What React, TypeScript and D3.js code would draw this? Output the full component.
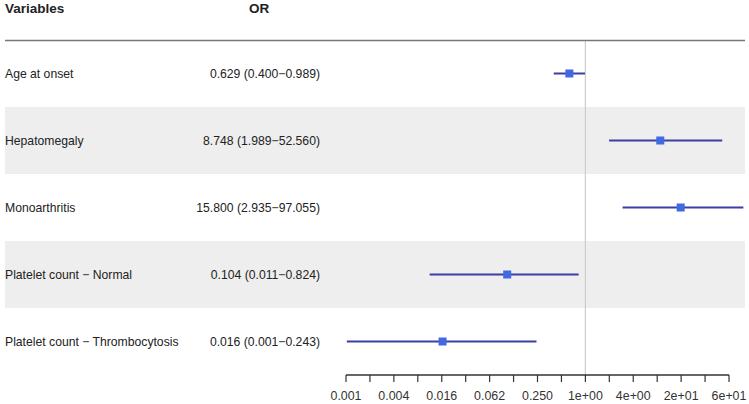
import React from "react";
import * as d3 from "d3";

const variables = [
  "Age at onset",
  "Hepatomegaly",
  "Monoarthritis",
  "Platelet count \u2212 Normal",
  "Platelet count \u2212 Thrombocytosis",
];
const orValues = [0.629, 8.748, 15.8, 0.104, 0.016];
const lowerCI = [0.4, 1.989, 2.935, 0.011, 0.001];
const upperCI = [0.989, 52.56, 97.055, 0.824, 0.243];
const orLabels = [
  "0.629 (0.400\u22120.989)",
  "8.748 (1.989\u221252.560)",
  "15.800 (2.935\u221297.055)",
  "0.104 (0.011\u22120.824)",
  "0.016 (0.001\u22120.243)",
];
const tickExponents = d3.range(-10, 7);
const tickLabels = ["0.001", "0.004", "0.016", "0.062", "0.250", "1e+00", "4e+00", "2e+01", "6e+01"];

const W = 749;
const H = 404;

export default function App() {
  const x = d3.scaleLog().base(2).domain([Math.pow(2, -10), Math.pow(2, 6)]).range([346, 729]);
  const y = d3.scaleLinear().domain([0, variables.length]).range([40, 375]);
  const rowH = y(1) - y(0);
  const xMin = 346;
  const xMax = 745;
  const clip = (v: number) => Math.max(xMin, Math.min(xMax, v));
  const font = "Arial, 'Liberation Sans', Helvetica, sans-serif";

  return (
    <svg width={W} height={H} style={{ position: "absolute", left: 0, top: 0 }} fontFamily={font}>
      <rect x={0} y={0} width={W} height={H} fill="#fff" />
      {variables.map((v, i) =>
        i % 2 === 1 ? (
          <rect key={"b" + i} x={5} y={y(i)} width={xMax - 5} height={rowH} fill="#eeeeee" />
        ) : null
      )}
      <text x={5} y={13} fontSize={13.5} fontWeight="bold" fill="#222">Variables</text>
      <text x={259} y={13} fontSize={13.5} fontWeight="bold" fill="#222" textAnchor="middle">OR</text>
      <line x1={x(1)} x2={x(1)} y1={40} y2={375} stroke="#cccccc" strokeWidth={1.2} />
      <line x1={5} x2={745} y1={40.5} y2={40.5} stroke="#777" strokeWidth={1.5} />
      {variables.map((v, i) => {
        const cy = y(i) + rowH / 2;
        return (
          <g key={"r" + i}>
            <text x={5} y={cy + 4} fontSize={12.2} fill="#222">{v}</text>
            <text x={320} y={cy + 4} fontSize={12.2} fill="#222" textAnchor="end">{orLabels[i]}</text>
            <line
              x1={clip(x(lowerCI[i]))}
              x2={clip(x(upperCI[i]))}
              y1={cy}
              y2={cy}
              stroke="#3a3fa0"
              strokeWidth={2}
            />
            <rect x={x(orValues[i]) - 4} y={cy - 4} width={8} height={8} fill="#4169e1" />
          </g>
        );
      })}
      <line x1={x(Math.pow(2, -10))} x2={x(Math.pow(2, 6))} y1={375} y2={375} stroke="#333" strokeWidth={1.5} />
      {tickExponents.map((e, i) => {
        const tx = x(Math.pow(2, e));
        return (
          <g key={"t" + e}>
            <line x1={tx} x2={tx} y1={375} y2={382} stroke="#333" strokeWidth={1.2} />
            {i % 2 === 0 ? (
              <text x={tx} y={400} fontSize={12.4} fill="#333" textAnchor="middle">
                {tickLabels[i / 2]}
              </text>
            ) : null}
          </g>
        );
      })}
    </svg>
  );
}
